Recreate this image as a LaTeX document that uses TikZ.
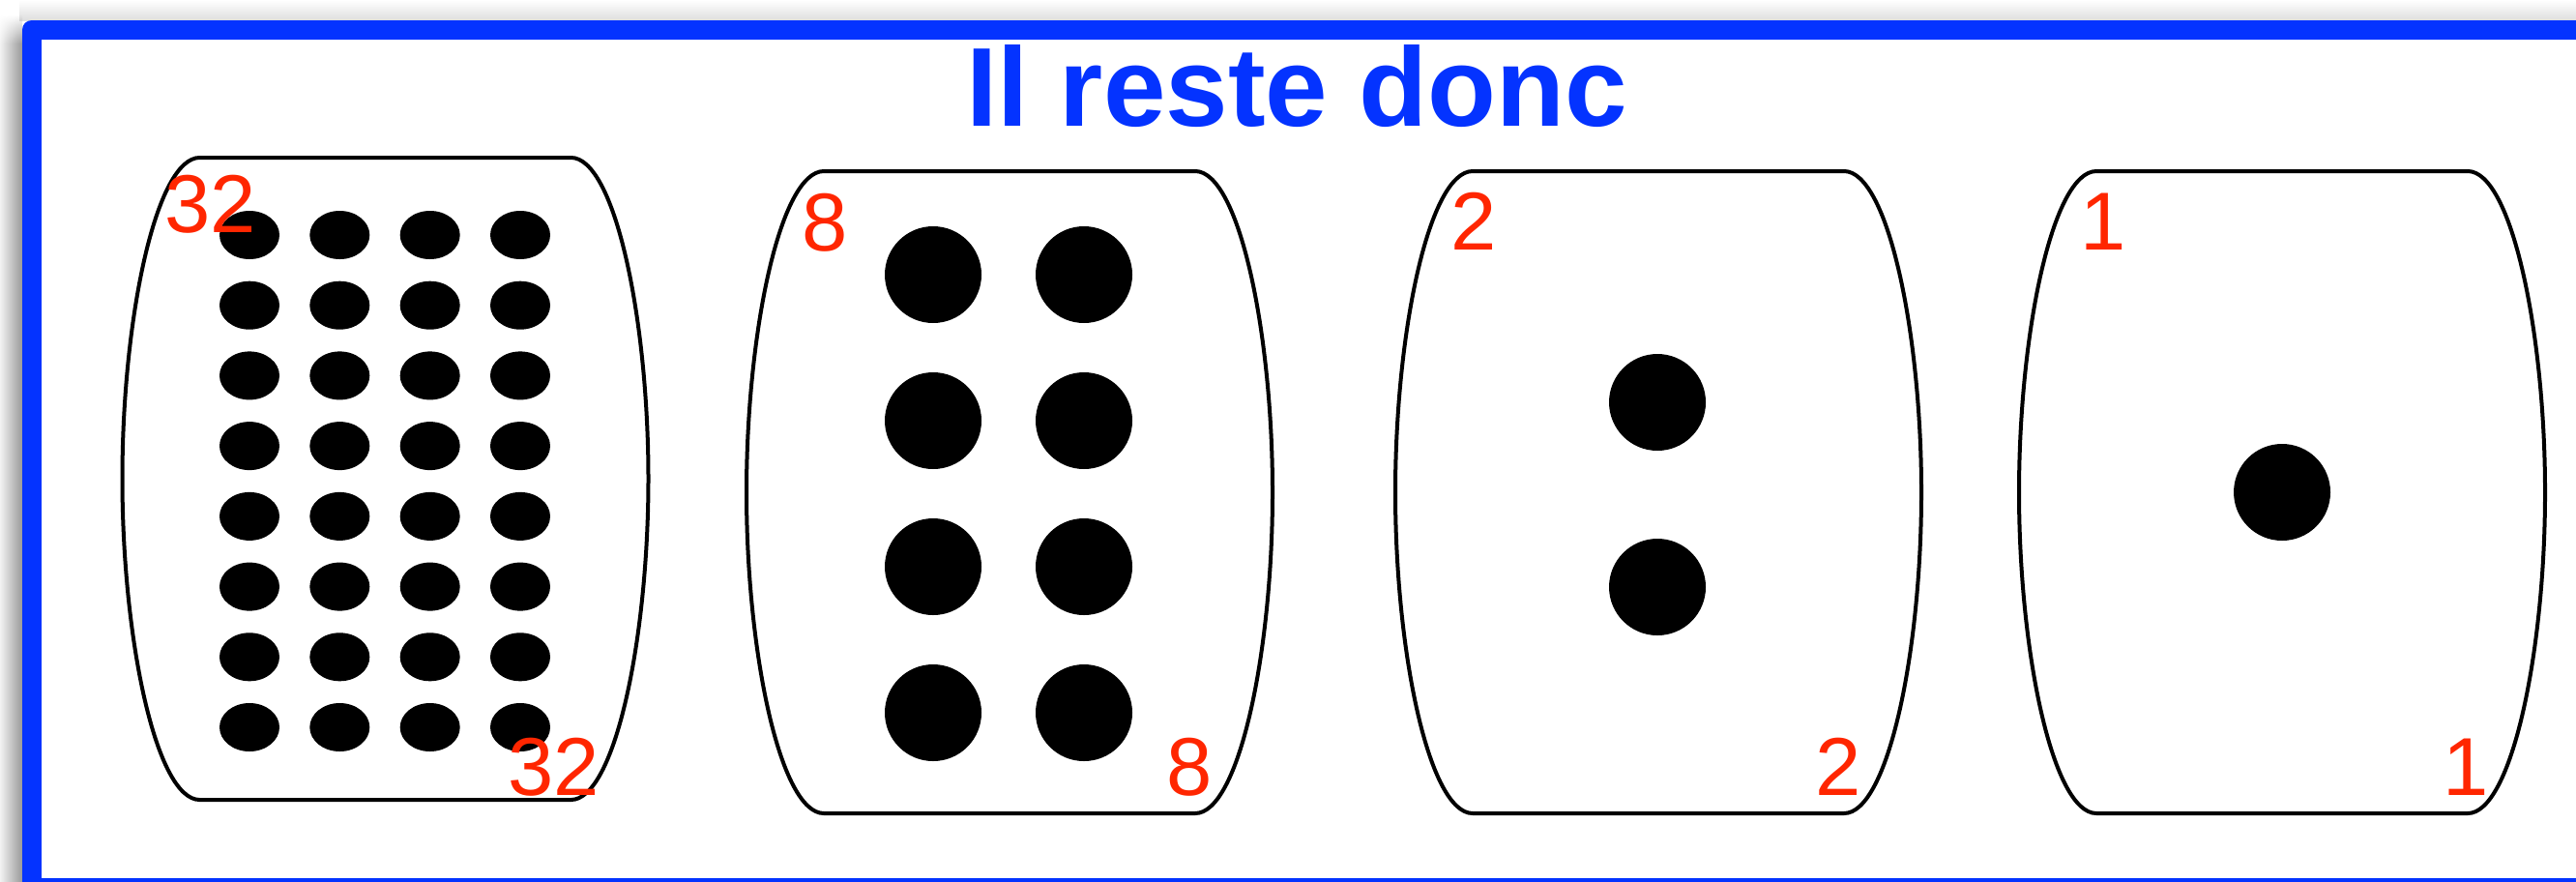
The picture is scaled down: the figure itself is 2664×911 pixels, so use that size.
\documentclass[tikz,border=0pt]{standalone}
\usepackage{fontspec}
\setmainfont{Liberation Sans}
\usetikzlibrary{fadings}
\definecolor{frameblue}{HTML}{0433FF}
\definecolor{numred}{HTML}{FF2600}
\tikzset{
  barrel/.style={draw=black, line width=2pt, fill=white},
  dot/.style={fill=black},
  numlab/.style={text=numred, font=\fontsize{42.5}{44}\selectfont, anchor=base, inner sep=0pt},
  titlelab/.style={text=frameblue, font=\bfseries\fontsize{58}{60}\selectfont, anchor=base, inner sep=0pt},
}
\newcommand{\drawbarrel}[3]{% cx, top, bottom
  \pgfmathsetmacro{\bm}{(#2+#3)/2}
  \pgfmathsetmacro{\bu}{(#2+\bm)/2}
  \pgfmathsetmacro{\bd}{(#3+\bm)/2}
  \draw[barrel] (#1-192,#2) -- (#1+192,#2)
    .. controls (#1+237,#2) and (#1+272,\bu) .. (#1+272,\bm)
    .. controls (#1+272,\bd) and (#1+237,#3) .. (#1+192,#3)
    -- (#1-192,#3)
    .. controls (#1-237,#3) and (#1-272,\bd) .. (#1-272,\bm)
    .. controls (#1-272,\bu) and (#1-237,#2) .. cycle;
}
\begin{document}
\begin{tikzpicture}[x=0.5pt, y=-0.5pt]
\useasboundingbox (0,0) rectangle (2664,911);
\clip (0,0) rectangle (2664,911);
% shadow
\shade[top color=white, bottom color=black!13] (20,0) rectangle (2664,21);
\shade[left color=black!5, right color=black!40] (0,45) rectangle (23,911);
\shade[left color=black!5, right color=black!40, path fading=north] (0,15) rectangle (23,45);
% frame
\draw[frameblue, line width=10pt, line join=round] (2700,918) -- (33,918) -- (33,30.5) -- (2700,30.5);
% title
\node[titlelab] (title) at (1341,130) {Il reste donc};
% barrels
\drawbarrel{398.5}{163}{827}
\drawbarrel{1044}{177}{841}
\drawbarrel{1715}{177}{841}
\drawbarrel{2360}{177}{841}
% dots barrel 1
\foreach \c in {258,351.3,444.7,538}
  \foreach \r in {243,315.7,388.4,461.1,533.9,606.6,679.3,752}
    \fill[dot] (\c,\r) ellipse [x radius=31, y radius=25];
% dots barrel 2
\foreach \c in {965,1121}
  \foreach \r in {284,435,586,737}
    \fill[dot] (\c,\r) circle [radius=50];
% dots barrel 3
\fill[dot] (1714,416) circle [radius=50];
\fill[dot] (1714,607) circle [radius=50];
% dot barrel 4
\fill[dot] (2360,509) circle [radius=50];
% labels
\node[numlab] (n1a) at (218,240) {32};
\node[numlab] (n1b) at (573,822) {32};
\node[numlab] (n2a) at (853,259) {8};
\node[numlab] (n2b) at (1230,822) {8};
\node[numlab] (n3a) at (1524,258) {2};
\node[numlab] (n3b) at (1901,822) {2};
\node[numlab] (n4a) at (2175,258) {1};
\node[numlab] (n4b) at (2550,822) {1};
\end{tikzpicture}
\end{document}
